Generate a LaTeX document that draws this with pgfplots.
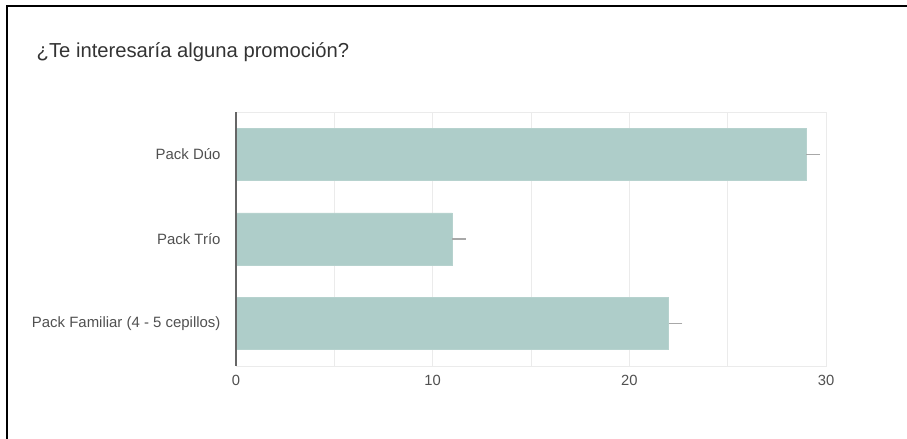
\documentclass[border=0pt]{standalone}
\usepackage{pgfplots}
\pgfplotsset{compat=1.18}
\usepackage{fontspec}
\setmainfont{Liberation Sans}
\definecolor{barc}{HTML}{AECDC9}
\definecolor{lblc}{HTML}{505050}
\definecolor{titc}{HTML}{333333}
\definecolor{gridc}{HTML}{EBEBEB}
\definecolor{errc}{HTML}{A8A8A8}
\begin{document}
\begin{tikzpicture}[x=1bp,y=1bp]
\path[use as bounding box] (0,0) rectangle (907,439);
\draw[black, line width=2.2bp] (7,-2) -- (7,433) -- (909,433);
\node[anchor=base west, inner sep=0, text=titc, font=\fontsize{20.3}{22}\selectfont] at (36.5,381) {¿Te interesaría alguna promoción?};
\begin{axis}[
  at={(236bp,73bp)}, anchor=south west,
  scale only axis, width=590bp, height=254bp,
  xmin=0, xmax=30, ymin=-0.5, ymax=2.5,
  xbar, bar width=52bp,
  xtick={0,10,20,30}, minor xtick={5,15,25},
  ytick={0,1,2},
  yticklabels={Pack Familiar (4 - 5 cepillos),Pack Trío,Pack Dúo},
  xmajorgrids, xminorgrids,
  major grid style={gridc, line width=0.8bp},
  minor grid style={gridc, line width=0.8bp},
  axis line style={gridc, line width=0.8bp},
  major tick length=0pt, minor tick length=0pt,
  tick style={draw=none},
  /pgf/number format/assume math mode=true,
  xticklabel style={text=lblc, font=\fontsize{14.8}{16}\selectfont, yshift=-6bp},
  yticklabel style={text=lblc, font=\fontsize{15}{16}\selectfont, xshift=-12bp},
  clip=false,
]
\addplot[fill=barc, draw=barc!90!white, line width=0.6bp,
  error bars/.cd, x dir=plus, x explicit, error mark=none,
  error bar style={errc, line width=1.5bp}]
  coordinates {(22,0) +- (0.7,0) (11,1) +- (0.7,0) (29,2) +- (0.7,0)};
\draw[gray!80!black, line width=2bp] (axis cs:0,-0.5) -- (axis cs:0,2.5);
\end{axis}
\end{tikzpicture}
\end{document}
